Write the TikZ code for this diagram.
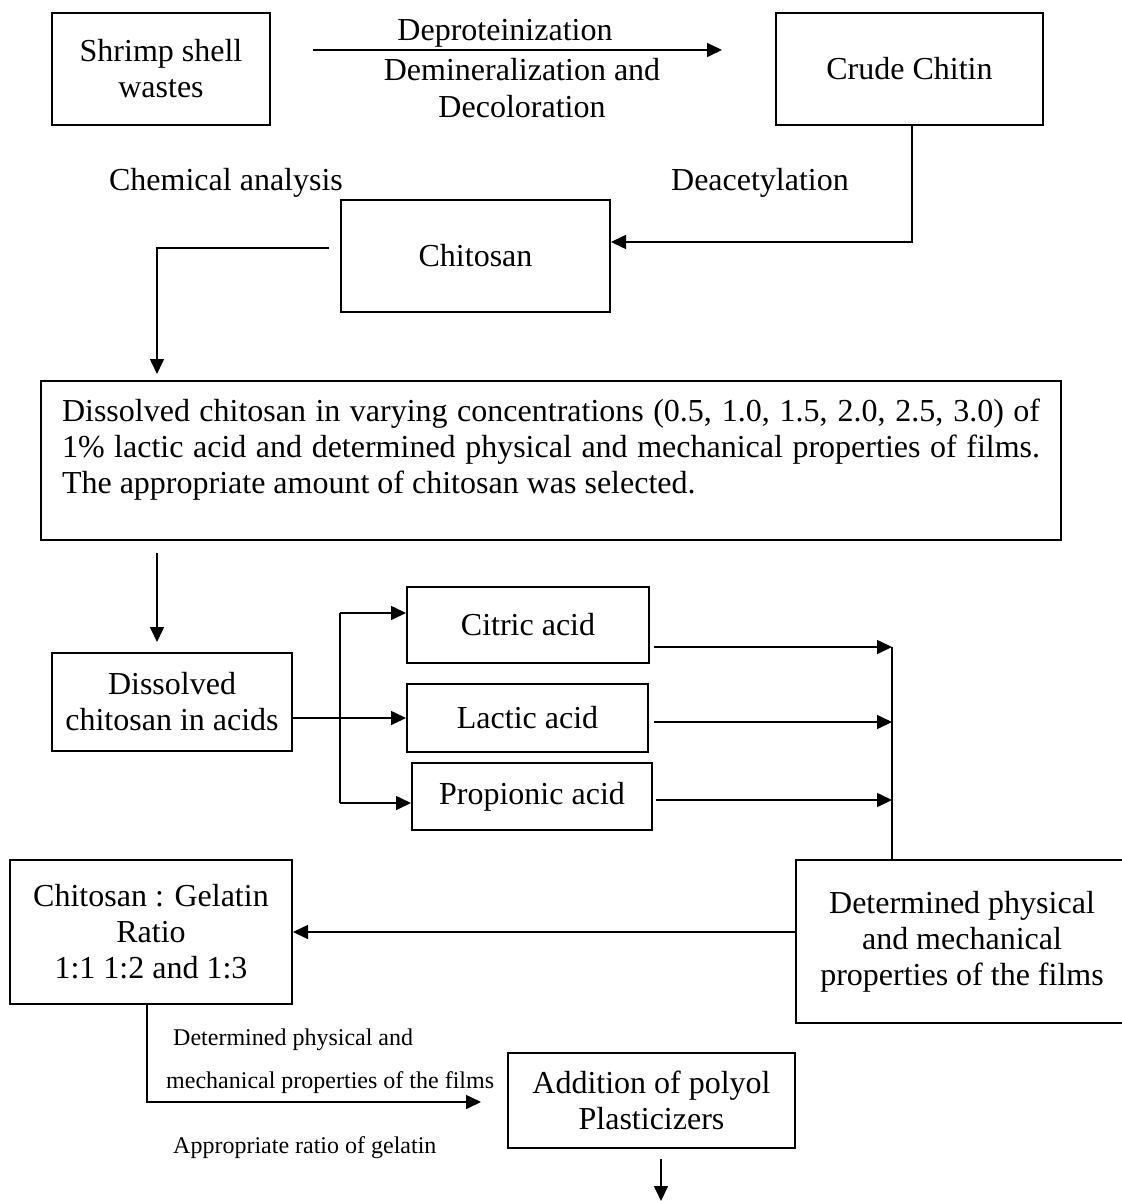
\documentclass[tikz,border=0pt]{standalone}
\usepackage{fontspec}
\setmainfont{Liberation Serif}
\usetikzlibrary{arrows.meta,calc}
\newcommand{\fbig}{\fontsize{32}{36}\selectfont}
\newcommand{\fsmall}{\fontsize{24}{27}\selectfont}
\begin{document}
\begin{tikzpicture}[x=1pt,y=-1pt,
  box/.style={draw,line width=2pt,inner sep=0pt,align=center,font=\fbig},
  lbl/.style={inner sep=0pt,font=\fbig},
  slbl/.style={inner sep=0pt,font=\fsmall,anchor=west},
  conn/.style={line width=1.6pt},
  arr/.style={conn,-{Triangle[length=15pt,width=14pt]}}]
\useasboundingbox (0,0) rectangle (1121,1201);
% boxes
\node[box,minimum width=218pt,minimum height=112pt] (shrimp) at (161,69) {Shrimp shell\\wastes};
\node[box,minimum width=267pt,minimum height=112pt] (crude) at (909.5,69) {Crude Chitin};
\node[box,minimum width=269pt,minimum height=112pt] (chitosan) at (475.5,256) {Chitosan};
\node[box,minimum width=1020pt,minimum height=159pt] (big) at (551,460.5) {};
\node[lbl,align=left] (bigtext) at (551,450) {\makebox[978pt][s]{Dissolved chitosan in varying concentrations (0.5, 1.0, 1.5, 2.0, 2.5, 3.0) of}\\
\makebox[978pt][s]{1\% lactic acid and determined physical and mechanical properties of films.}\\
The appropriate amount of chitosan was selected.};
\node[box,minimum width=240pt,minimum height=98pt] (acids) at (172,702) {Dissolved\\chitosan in acids};
\node[box,minimum width=242pt,minimum height=76pt] (citric) at (528,625) {Citric acid};
\node[box,minimum width=241pt,minimum height=68pt] (lactic) at (527.5,718) {Lactic acid};
\node[box,minimum width=240pt,minimum height=67pt] (propionic) at (532,796.5) {Propionic acid};
\node[box,minimum width=332pt,minimum height=163pt] (det) at (962,941.5) {Determined physical\\and mechanical\\properties of the films};
\node[box,minimum width=282pt,minimum height=144pt] (gel) at (151,932) {Chitosan : Gelatin\\Ratio\\1:1 1:2 and 1:3};
\node[box,minimum width=287pt,minimum height=95pt] (add) at (651.5,1100.5) {Addition of polyol\\Plasticizers};
% labels
\node[lbl] (l1) at (505,33) {Deproteinization};
\node[lbl] (l2) at (522,70) {Demineralization and};
\node[lbl] (l3) at (522,107) {Decoloration};
\node[lbl] (l4) at (760,183) {Deacetylation};
\node[lbl] (l5) at (226,183) {Chemical analysis};
\node[slbl] (s1) at (173,1040) {Determined physical and};
\node[slbl] (s2) at (166,1083) {mechanical properties of the films};
\node[slbl] (s3) at (173,1148) {Appropriate ratio of gelatin};
% connectors
\draw[arr] ([xshift=42pt,yshift=19pt]shrimp.east) -- ([xshift=-53pt,yshift=19pt]crude.west);
\draw[arr] ([xshift=2.5pt]crude.south) |- ([yshift=14pt]chitosan.east);
\draw[arr] ([xshift=-11pt,yshift=8pt]chitosan.west) -| ([xshift=-394pt,yshift=6pt]big.north);
\draw[arr] ([xshift=-394pt,yshift=-12pt]big.south) -- ([xshift=-15pt,yshift=10pt]acids.north);
\draw[arr] (lactic.west -| acids.east) -- (lactic.west);
\coordinate (brtop) at (340,613);
\coordinate (brbot) at (340,803);
\draw[conn] (brtop) -- (brbot);
\draw[arr] (brtop) -- (brtop -| citric.west);
\draw[arr] (brbot) -- (brbot -| propionic.west);
\coordinate (jc) at (892,647);
\coordinate (jl) at (892,722);
\coordinate (jp) at (892,800);
\draw[arr] ([xshift=4pt]jc -| citric.east) -- (jc);
\draw[arr] ([xshift=5pt]jl -| lactic.east) -- (jl);
\draw[arr] ([xshift=3pt]jp -| propionic.east) -- (jp);
\draw[conn] (jc) -- (jc |- det.north);
\draw[arr] (det.west |- gel.east) -- (gel.east);
\draw[arr] ([xshift=-4pt]gel.south) |- ([xshift=-26pt,yshift=-1.5pt]add.west);
\draw[arr] ([xshift=9.5pt,yshift=-10pt]add.south) -- ++(0,42);
\end{tikzpicture}
\end{document}
